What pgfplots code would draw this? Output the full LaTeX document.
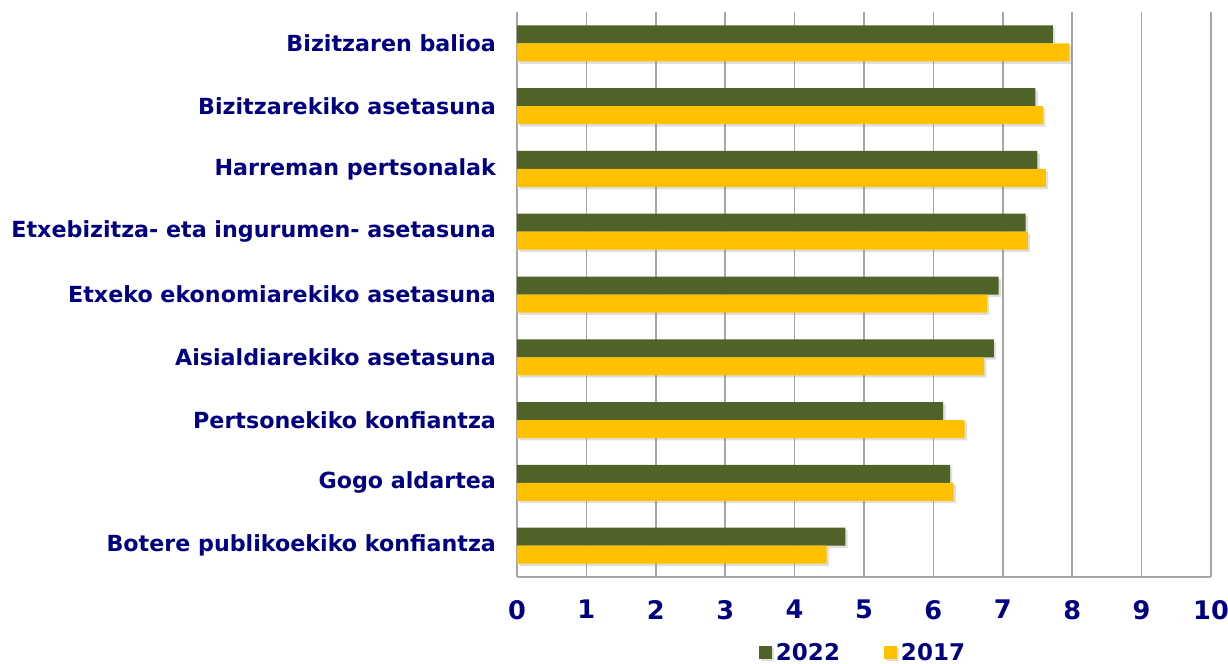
\documentclass[border=0pt]{standalone}
\usepackage{fontspec}
\setmainfont{DejaVu Sans}
\usepackage{pgfplots}
\pgfplotsset{compat=1.18}
\usetikzlibrary{shadows}
\definecolor{cgreen}{HTML}{4F6228}
\definecolor{cyellow}{HTML}{FFC000}
\definecolor{cnavy}{RGB}{0,0,128}
\definecolor{cgrid}{HTML}{A6A6A6}
\begin{document}
\begin{tikzpicture}[x=1pt,y=1pt]
\path[use as bounding box] (0,0) rectangle (614,332);
\begin{axis}[
  at={(258.5pt,43.5pt)}, anchor=south west,
  scale only axis, width=347pt, height=282.5pt,
  xbar, bar width=9pt,
  xmin=0, xmax=10, ymin=-0.5, ymax=8.5, y dir=reverse,
  xtick={0,1,...,10}, ytick={0,1,...,8},
  yticklabels={Bizitzaren balioa,Bizitzarekiko asetasuna,Harreman pertsonalak,Etxebizitza- eta ingurumen- asetasuna,Etxeko ekonomiarekiko asetasuna,Aisialdiarekiko asetasuna,Pertsonekiko konfiantza,Gogo aldartea,Botere publikoekiko konfiantza},
  axis x line*=bottom, axis y line*=left,
  axis line style={cgrid, line width=0.8pt},
  xmajorgrids, grid style={cgrid, line width=0.8pt},
  major tick length=0pt,
  /pgf/number format/assume math mode=true,
  xticklabel style={font=\bfseries\fontsize{12.8}{15}\selectfont, text=cnavy, yshift=-8pt},
  yticklabel style={font=\bfseries\fontsize{11.1}{13}\selectfont, text=cnavy, xshift=-7pt},
  legend style={at={(0.5,0)}, anchor=center, yshift=-38pt, draw=none, fill=none,
    legend columns=2, font=\bfseries\fontsize{11.5}{13}\selectfont, text=cnavy,
    /tikz/every even column/.append style={column sep=20pt}},
  legend image code/.code={\fill[#1] (0pt,-3pt) rectangle (6.5pt,3.5pt);},
]
\addplot[fill=cgreen, draw=none, bar shift=4.5pt,
  drop shadow={shadow xshift=1.2pt, shadow yshift=-1.2pt, opacity=0.25}] coordinates {
  (7.72,0) (7.47,1) (7.50,2) (7.33,3) (6.94,4) (6.87,5) (6.14,6) (6.24,7) (4.73,8)};
\addplot[fill=cyellow, draw=none, bar shift=-4.5pt,
  drop shadow={shadow xshift=1.2pt, shadow yshift=-1.2pt, opacity=0.25}] coordinates {
  (7.96,0) (7.58,1) (7.62,2) (7.36,3) (6.77,4) (6.73,5) (6.45,6) (6.29,7) (4.46,8)};
\legend{2022,2017}
\end{axis}
\end{tikzpicture}
\end{document}
